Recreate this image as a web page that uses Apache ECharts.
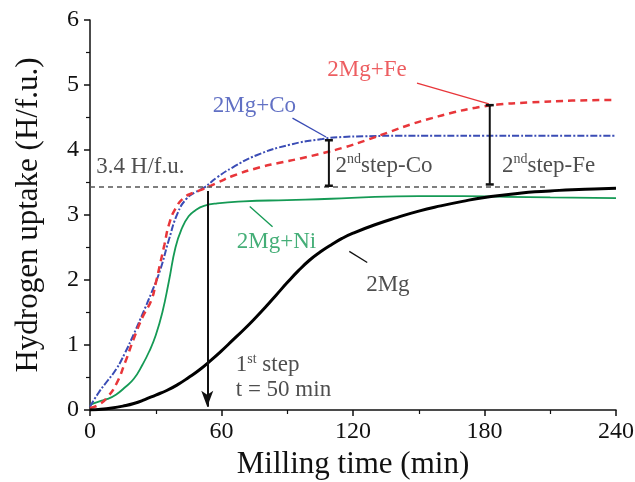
<!DOCTYPE html>
<html><head><meta charset="utf-8">
<script src="https://cdn.jsdelivr.net/npm/echarts@6/dist/echarts.min.js"></script>
<style>html,body{margin:0;padding:0;background:#fff}#c{width:635px;height:482px}</style>
</head><body><div id="c"></div>
<script>
// ---- data ----
var xTicks = [0, 60, 120, 180, 240];
var yTicks = [0, 1, 2, 3, 4, 5, 6];

var mgT = [0,5,10,15,20,25,30,35,40,45,50,55,60,65,70,75,80,85,90,95,100,105,110,115,120,130,140,150,160,170,180,190,200,210,220,230,240];
var mgY = [0,0.01,0.03,0.06,0.1,0.16,0.23,0.3,0.39,0.5,0.62,0.76,0.91,1.07,1.23,1.4,1.58,1.77,1.96,2.14,2.3,2.43,2.54,2.64,2.72,2.85,2.96,3.06,3.14,3.21,3.27,3.31,3.35,3.37,3.39,3.40,3.41];

var coT = [0,4,8,12,16,20,24,28,32,36,40,44,48,52,58,65,76,91,106,115,125,140,160,180,200,220,240];
var coY = [0.05,0.27,0.45,0.63,0.88,1.17,1.48,1.8,2.15,2.62,3.03,3.25,3.35,3.42,3.58,3.73,3.92,4.08,4.17,4.2,4.21,4.22,4.22,4.22,4.22,4.22,4.22];

var feT = [0,4,8,12,16,20,24,28,30,32,34,36,39,43,47,51,59,65,76,86,96,106,116,126,136,146,156,166,176,186,200,220,240];
var feY = [0.03,0.08,0.2,0.4,0.73,1.1,1.43,1.69,1.95,2.25,2.55,2.85,3.1,3.27,3.34,3.39,3.51,3.6,3.72,3.8,3.87,3.95,4.04,4.15,4.27,4.39,4.49,4.58,4.65,4.7,4.73,4.76,4.77];

var niT = [0,4,8,12,16,20,24,27,30,33,36,39,42,45,48,52,58,70,90,110,130,150,170,190,210,240];
var niY = [0.08,0.13,0.17,0.24,0.35,0.48,0.7,0.9,1.15,1.5,1.98,2.5,2.8,2.98,3.07,3.14,3.18,3.21,3.23,3.25,3.28,3.29,3.29,3.28,3.27,3.26];

var refLevel = 3.43;           // 3.4 H/f.u. reference line
var refEnd = 208;
var firstStepT = 53.5;         // arrow position
var coStepT = 109, coStepTop = 4.15;
var feStepT = 182.4, feStepTop = 4.69;

var labelTexts = ['3.4 H/f.u.', '2Mg+Co', '2Mg+Fe', '2Mg+Ni', '2Mg', 't = 50 min'];

// ---- build ----
function pairs(t, y) { return t.map(function (v, i) { return [v, y[i]]; }); }
var F = 'Liberation Serif';
var FS = 23;

function textPt(x, y, txt, color) {
  return {
    value: [x, y],
    label: { show: true, position: 'right', distance: 0, formatter: txt,
      color: color, fontFamily: F, fontSize: FS,
      rich: {
        n: { fontFamily: F, fontSize: FS, color: color },
        s: { fontFamily: F, fontSize: 14, color: color, verticalAlign: 'top', padding: [0, 0, 12, 0] }
      } }
  };
}

function seg(pts, color, width, type) {
  return { type: 'line', data: pts, showSymbol: false, symbol: 'none', silent: true,
    lineStyle: { color: color, width: width, type: type || 'solid' }, z: 5 };
}
function ibar(t, lo, hi) {
  return { type: 'line', data: [[t, lo], [t, hi]], symbol: 'rect', symbolSize: [8, 2.5], showSymbol: true,
    itemStyle: { color: '#111' }, lineStyle: { color: '#111', width: 2 }, silent: true, z: 6 };
}
function curve(name, t, y, color, width, type, z) {
  return { type: 'line', name: name, data: pairs(t, y), smooth: 0.5,
    showSymbol: false, lineStyle: { color: color, width: width, type: type }, z: z };
}

var axisCommon = {
  axisLine: { show: true, lineStyle: { color: '#111', width: 1.5 } },
  axisTick: { show: true, length: 6, lineStyle: { color: '#111', width: 1.5 } },
  minorTick: { show: true, splitNumber: 2, length: 4, lineStyle: { color: '#111', width: 1.2 } },
  splitLine: { show: false }
};

var option = {
  animation: false,
  grid: { left: 90, right: 19, top: 20, bottom: 72, containLabel: false, outerBoundsMode: 'none' },
  xAxis: Object.assign({
    type: 'value', min: 0, max: 240, interval: 60,
    name: 'Milling time (min)', nameLocation: 'middle', nameGap: 37,
    nameTextStyle: { fontFamily: F, fontSize: 31, color: '#111' },
    axisLabel: { fontFamily: F, fontSize: 24, color: '#111', margin: 10,
      formatter: function (v) { return xTicks.indexOf(v) >= 0 ? String(v) : ''; } }
  }, axisCommon),
  yAxis: Object.assign({
    type: 'value', min: 0, max: 6, interval: 1,
    name: 'Hydrogen uptake (H/f.u.)', nameLocation: 'middle', nameGap: 46,
    nameTextStyle: { fontFamily: F, fontSize: 31, color: '#111' },
    axisLabel: { fontFamily: F, fontSize: 24, color: '#111', margin: 11,
      formatter: function (v) { return yTicks.indexOf(v) >= 0 ? String(v) : ''; } }
  }, axisCommon),
  series: [
    seg([[0, refLevel], [refEnd, refLevel]], '#555', 1.5, [5, 4]),
    curve('2Mg+Ni', niT, niY, '#159a55', 1.8, 'solid', 3),
    curve('2Mg+Co', coT, coY, '#3a4cb5', 2, [7, 2, 2, 2], 3),
    curve('2Mg+Fe', feT, feY, '#e8363a', 2.5, [7, 5], 4),
    curve('2Mg', mgT, mgY, '#000', 3, 'solid', 4),
    ibar(coStepT, refLevel + 0.02, coStepTop),
    ibar(feStepT, refLevel + 0.04, feStepTop),
    { type: 'line', data: [], silent: true,
      markLine: { silent: true, symbol: ['none', 'arrow'], symbolSize: [9, 16],
        label: { show: false },
        lineStyle: { color: '#111', width: 2, type: 'solid' },
        data: [[{ coord: [firstStepT, 3.37] }, { coord: [firstStepT, 0.05] }]] } },
    seg([[92.4, 4.49], [107.7, 4.2]], '#3a4cb5', 1.3),
    seg([[149.2, 5.03], [182, 4.71]], '#e8363a', 1.3),
    seg([[72.9, 3.13], [83.3, 2.82]], '#159a55', 1.3),
    seg([[118.3, 2.44], [126.5, 2.27]], '#111', 1.3),
    { type: 'scatter', symbolSize: 0, silent: true, z: 10,
      data: [
        textPt(2.9, 3.74, labelTexts[0], '#222'),
        textPt(56, 4.68, labelTexts[1], '#3a4cb5'),
        textPt(108.3, 5.23, labelTexts[2], '#e8363a'),
        textPt(67, 2.59, labelTexts[3], '#159a55'),
        textPt(126, 1.92, labelTexts[4], '#222'),
        textPt(112, 3.76, '{n|2}{s|nd}{n|step-Co}', '#222'),
        textPt(188, 3.76, '{n|2}{s|nd}{n|step-Fe}', '#222'),
        textPt(66.5, 0.69, '{n|1}{s|st}{n| step}', '#222'),
        textPt(66.5, 0.31, labelTexts[5], '#222')
      ] }
  ]
};
var chart = echarts.init(document.getElementById('c'), null, { renderer: 'canvas' });
chart.setOption(option);
</script></body></html>
